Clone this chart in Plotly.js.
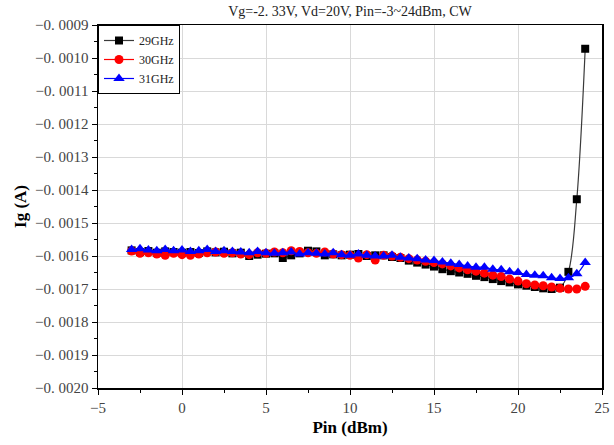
<!DOCTYPE html>
<html>
<head>
<meta charset="utf-8">
<script src="https://cdn.plot.ly/plotly-3.0.1.min.js"></script>
<style>html,body{margin:0;padding:0;background:#fff;}#chart{width:614px;height:445px;}</style>
</head>
<body>
<div id="chart"></div>
<script>
// Pin (dBm) values, -3 .. 24 in 0.5 dBm steps
const pinDbm = [-3,-2.5,-2,-1.5,-1,-0.5,0,0.5,1,1.5,2,2.5,3,3.5,4,4.5,5,5.5,6,6.5,7,7.5,8,8.5,9,9.5,10,10.5,11,11.5,12,12.5,13,13.5,14,14.5,15,15.5,16,16.5,17,17.5,18,18.5,19,19.5,20,20.5,21,21.5,22,22.5,23,23.5,24];

const ig29GHz = [
-0.001583,-0.001588,-0.001585,-0.001590,-0.001586,-0.001588,-0.001590,-0.001588,-0.001591,-0.001586,
-0.001589,-0.001587,-0.001592,-0.001590,-0.001600,-0.001596,-0.001593,-0.001592,-0.001606,-0.001598,
-0.001592,-0.001584,-0.001586,-0.001598,-0.001595,-0.001598,-0.001596,-0.001594,-0.001600,-0.001598,
-0.001598,-0.001603,-0.001606,-0.001614,-0.001620,-0.001626,-0.001632,-0.001640,-0.001646,-0.001650,
-0.001654,-0.001660,-0.001664,-0.001670,-0.001676,-0.001680,-0.001686,-0.001690,-0.001694,-0.001698,
-0.001700,-0.001696,-0.001648,-0.001428,-0.000972];

const ig30GHz = [
-0.001585,-0.001592,-0.001590,-0.001594,-0.001598,-0.001592,-0.001596,-0.001598,-0.001594,-0.001590,
-0.001588,-0.001592,-0.001590,-0.001594,-0.001596,-0.001590,-0.001592,-0.001588,-0.001590,-0.001584,
-0.001586,-0.001590,-0.001592,-0.001588,-0.001594,-0.001596,-0.001598,-0.001606,-0.001596,-0.001612,
-0.001598,-0.001600,-0.001604,-0.001608,-0.001612,-0.001616,-0.001620,-0.001624,-0.001630,-0.001636,
-0.001642,-0.001646,-0.001652,-0.001658,-0.001662,-0.001670,-0.001676,-0.001684,-0.001688,-0.001690,
-0.001694,-0.001698,-0.001700,-0.001700,-0.001692];

const ig31GHz = [
-0.001580,-0.001578,-0.001582,-0.001584,-0.001580,-0.001584,-0.001582,-0.001586,-0.001584,-0.001580,
-0.001586,-0.001584,-0.001586,-0.001588,-0.001590,-0.001586,-0.001590,-0.001592,-0.001590,-0.001588,
-0.001594,-0.001590,-0.001592,-0.001594,-0.001590,-0.001596,-0.001598,-0.001594,-0.001598,-0.001600,
-0.001600,-0.001598,-0.001604,-0.001606,-0.001608,-0.001612,-0.001614,-0.001618,-0.001622,-0.001626,
-0.001630,-0.001634,-0.001634,-0.001640,-0.001642,-0.001648,-0.001650,-0.001656,-0.001658,-0.001660,
-0.001666,-0.001668,-0.001666,-0.001654,-0.001620];

const seriesNames = ['29GHz','30GHz','31GHz'];
const xTickVals = [-5,0,5,10,15,20,25];
const yTickVals = [-0.0009,-0.0010,-0.0011,-0.0012,-0.0013,-0.0014,-0.0015,-0.0016,-0.0017,-0.0018,-0.0019,-0.0020];
const yTickText = yTickVals.map(v => '\u22120. ' + Math.round(-v*10000).toString().padStart(4,'0'));

const serif = 'Liberation Serif, DejaVu Serif, serif';

const traces = [
  {x: pinDbm, y: ig29GHz, name: seriesNames[0], mode: 'lines+markers',
   line: {color: '#3a3a3a', width: 1.2, shape: 'spline', smoothing: 1},
   marker: {symbol: 'square', size: 8, color: '#000000'}},
  {x: pinDbm, y: ig30GHz, name: seriesNames[1], mode: 'lines+markers',
   line: {color: '#ff0000', width: 1.2, shape: 'spline', smoothing: 1},
   marker: {symbol: 'circle', size: 9, color: '#ff0000'}},
  {x: pinDbm, y: ig31GHz, name: seriesNames[2], mode: 'lines+markers',
   line: {color: '#0000ff', width: 1.2, shape: 'spline', smoothing: 1},
   marker: {symbol: 'triangle-up', size: 10, color: '#0000ff'}}
];

const layout = {
  width: 614, height: 445,
  margin: {l: 98, r: 12, t: 25, b: 57},
  paper_bgcolor: '#ffffff', plot_bgcolor: '#ffffff',
  font: {family: serif, size: 14, color: '#222'},
  title: {text: 'Vg=-2. 33V, Vd=20V, Pin=-3~24dBm, CW', x: 0.5, xref: 'paper', xanchor: 'center',
          y: 0.975, yref: 'container', yanchor: 'middle', font: {family: serif, size: 14, color: '#222'}},
  showlegend: true,
  legend: {x: 0, y: 1, xanchor: 'left', yanchor: 'top', bgcolor: '#ffffff', bordercolor: '#000', borderwidth: 1,
           font: {family: serif, size: 12, color: '#222'}, tracegroupgap: 0},
  xaxis: {
    range: [-5, 25], tickvals: xTickVals, ticks: 'outside', ticklen: 5, tickwidth: 1, tickcolor: '#000',
    showline: true, linecolor: '#000', linewidth: 1.5, mirror: true,
    showgrid: true, gridcolor: '#d9d9d9', gridwidth: 1, zeroline: false,
    tickfont: {family: serif, size: 15, color: '#444'},
    minor: {dtick: 2.5, tick0: -5, ticks: 'outside', ticklen: 3, tickcolor: '#000', showgrid: false},
    title: {text: 'Pin (dBm)', standoff: 6, font: {family: serif, size: 17, color: '#000', weight: 'bold'}}
  },
  yaxis: {
    range: [-0.0020, -0.0009], tickvals: yTickVals, ticktext: yTickText, ticks: 'outside', ticklen: 5, tickwidth: 1, tickcolor: '#000',
    showline: true, linecolor: '#000', linewidth: 1.5, mirror: true,
    showgrid: true, gridcolor: '#d9d9d9', gridwidth: 1, zeroline: false,
    tickfont: {family: serif, size: 15, color: '#444'},
    minor: {dtick: 0.00005, tick0: -0.002, ticks: 'outside', ticklen: 3, tickcolor: '#000', showgrid: false},
    title: {text: 'Ig (A)', standoff: 4, font: {family: serif, size: 17, color: '#000', weight: 'bold'}}
  }
};

Plotly.newPlot('chart', traces, layout, {displayModeBar: false, staticPlot: true});
</script>
</body>
</html>
